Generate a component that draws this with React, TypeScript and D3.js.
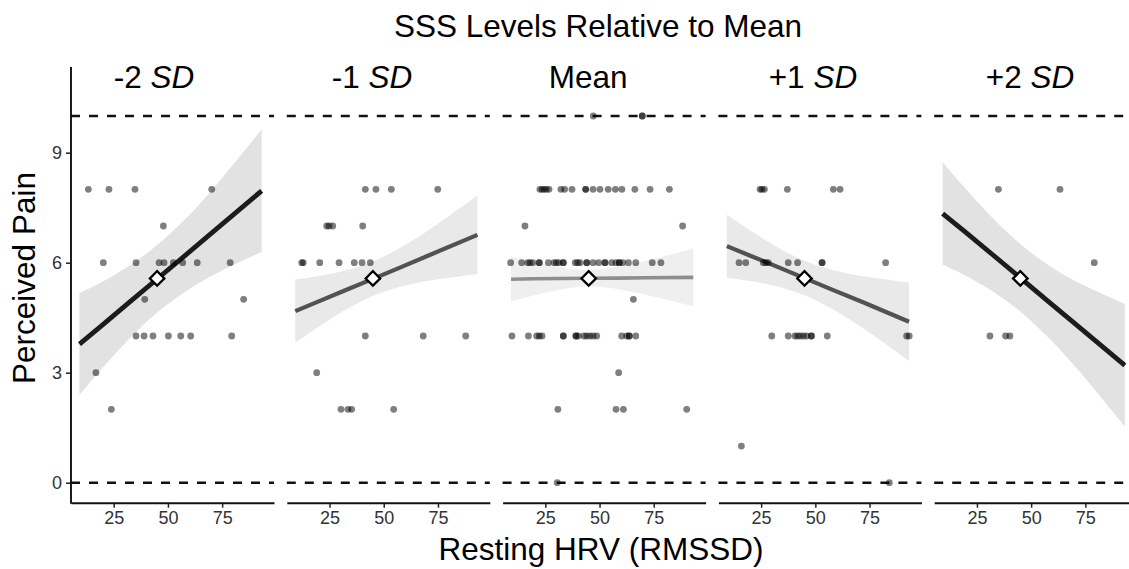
import React, { useEffect, useRef } from 'react';
import * as d3 from 'd3';

// SSS levels (facets)
const levelNames = ['-2', '-1', 'Mean', '+1', '+2'];
const labelX = [43.6, 44.6, 44.7, 48.9, 49.5]; // label centre, in HRV units

// raw points per facet: [HRV, pain]
const pointsM2: [number, number][] = [
  [13.3, 8], [22.8, 8], [34.8, 8], [70.2, 8],
  [47.9, 7],
  [20.2, 6], [35.3, 6], [45.9, 6], [48.2, 6], [52.5, 6], [56.8, 6], [63.5, 6], [78.7, 6],
  [39.3, 5], [84.9, 5],
  [35.3, 4], [39.0, 4], [43.1, 4], [50.2, 4], [55.9, 4], [60.5, 4], [79.4, 4],
  [16.8, 3],
  [23.9, 2],
];
const pointsM1: [number, number][] = [
  [41.5, 8], [46.4, 8], [53.5, 8], [74.9, 8],
  [23.7, 7], [24.8, 7], [26.5, 7], [40.3, 7],
  [12.2, 6], [12.9, 6], [20.5, 6], [29.4, 6], [36.4, 6], [40.0, 6], [43.8, 6],
  [41.5, 4], [68.2, 4], [87.8, 4],
  [19.1, 3],
  [30.3, 2], [33.5, 2], [35.2, 2], [54.6, 2],
];
const pointsMean: [number, number][] = [
  [47.1, 10], [69.7, 10], [69.7, 10],
  [22.5, 8], [23.5, 8], [24.5, 8], [25.5, 8], [26.7, 8], [32.2, 8], [33.9, 8], [37.3, 8],
  [43.6, 8], [43.6, 8], [47.0, 8], [50.2, 8], [54.0, 8], [57.3, 8], [60.3, 8], [66.3, 8],
  [73.3, 8], [82.2, 8],
  [15.6, 7], [88.3, 7],
  [9.0, 6], [14.1, 6], [16.9, 6], [17.9, 6], [19.2, 6], [22.2, 6], [22.2, 6], [26.4, 6],
  [29.0, 6], [30.1, 6], [31.2, 6], [33.3, 6], [33.3, 6], [38.8, 6], [39.9, 6], [41.0, 6],
  [44.1, 6], [44.1, 6], [47.0, 6], [49.6, 6], [52.5, 6], [52.5, 6], [55.6, 6], [57.6, 6],
  [59.1, 6], [59.1, 6], [60.7, 6], [63.3, 6], [66.7, 6], [74.3, 6], [78.3, 6],
  [65.6, 5],
  [9.6, 4], [17.2, 4], [21.0, 4], [22.2, 4], [23.5, 4], [33.3, 4], [33.3, 4], [39.1, 4],
  [39.1, 4], [40.2, 4], [42.8, 4], [44.1, 4], [45.6, 4], [47.1, 4], [48.7, 4], [60.2, 4],
  [62.5, 4], [63.7, 4], [63.7, 4], [66.7, 4],
  [58.8, 3],
  [30.8, 2], [57.6, 2], [61.0, 2], [90.2, 2],
  [30.5, 0],
];
const pointsP1: [number, number][] = [
  [24.5, 8], [25.4, 8], [26.5, 8], [37.1, 8], [58.3, 8], [61.4, 8],
  [14.8, 6], [17.9, 6], [26.0, 6], [27.1, 6], [28.3, 6], [37.5, 6], [41.8, 6], [53.1, 6],
  [53.1, 6], [82.4, 6],
  [29.9, 4], [37.5, 4], [40.6, 4], [41.8, 4], [43.1, 4], [44.5, 4], [46.0, 4], [48.2, 4],
  [48.2, 4], [55.5, 4], [92.1, 4], [93.3, 4],
  [15.9, 1],
  [84.1, 0],
];
const pointsP2: [number, number][] = [
  [34.9, 8], [63.3, 8],
  [79.1, 6],
  [31.0, 4], [38.2, 4], [40.2, 4],
];

// fitted simple slopes and 95% CI, read at these HRV values
const fitX = [9.2, 20, 32, 45, 58, 72, 93.2];
const fitM2 = [3.78, 4.31, 4.91, 5.555, 6.2, 6.9, 7.96];
const loM2 = [2.39, 3.14, 3.91, 4.64, 5.21, 5.7, 6.29];
const hiM2 = [5.17, 5.49, 5.91, 6.48, 7.19, 8.1, 9.63];
const fitM1 = [4.68, 4.945, 5.24, 5.56, 5.88, 6.23, 6.76];
const loM1 = [3.82, 4.25, 4.7, 5.09, 5.35, 5.52, 5.69];
const hiM1 = [5.54, 5.64, 5.78, 6.03, 6.42, 6.94, 7.83];
const fitMean = [5.55, 5.56, 5.57, 5.575, 5.58, 5.59, 5.6];
const loMean = [4.94, 5.11, 5.27, 5.36, 5.28, 5.12, 4.81];
const hiMean = [6.16, 6.01, 5.87, 5.8, 5.88, 6.06, 6.39];
const fitP1 = [6.45, 6.19, 5.9, 5.58, 5.26, 4.92, 4.39];
const loP1 = [5.59, 5.5, 5.36, 5.11, 4.73, 4.21, 3.32];
const hiP1 = [7.31, 6.88, 6.44, 6.05, 5.8, 5.63, 5.46];
const fitP2 = [7.34, 6.82, 6.23, 5.585, 4.94, 4.25, 3.2];
const loP2 = [5.95, 5.64, 5.23, 4.67, 3.95, 3.05, 1.53];
const hiP2 = [8.73, 8.0, 7.23, 6.51, 5.93, 5.45, 4.87];

const meanHRV = 45;
const meanPain = 5.57;
const xTicks = [25, 50, 75];
const yTicks = [0, 3, 6, 9];
const refLines = [0, 10];

const panels = [
  { points: pointsM2, fit: fitM2, lo: loM2, hi: hiM2, line: '#1c1c1c', lw: 4.8, band: '#e2e2e2' },
  { points: pointsM1, fit: fitM1, lo: loM1, hi: hiM1, line: '#525252', lw: 4.2, band: '#e9e9e9' },
  { points: pointsMean, fit: fitMean, lo: loMean, hi: hiMean, line: '#8e8e8e', lw: 3.6, band: '#efefef' },
  { points: pointsP1, fit: fitP1, lo: loP1, hi: hiP1, line: '#525252', lw: 4.2, band: '#e9e9e9' },
  { points: pointsP2, fit: fitP2, lo: loP2, hi: hiP2, line: '#1c1c1c', lw: 4.8, band: '#e2e2e2' },
];

const FONT = '"Liberation Sans", Arial, Helvetica, sans-serif';

const App: React.FC = () => {
  const svgRef = useRef<SVGSVGElement>(null);

  useEffect(() => {
    const svg = d3.select(svgRef.current);
    svg.selectAll('*').remove();

    const width = 1129;
    const height = 569;
    const firstLeft = 71;
    const pitch = 215.8;
    const panelW = 203;
    const axisY = 502.7;

    svg.attr('width', width).attr('height', height).style('font-family', FONT);

    const x = d3.scaleLinear().domain([5.3, 98.9]).range([0, panelW]);
    const y = d3.scaleLinear().domain([0, 10]).range([482.7, 116]);

    // title
    svg
      .append('text')
      .attr('x', 598)
      .attr('y', 37)
      .attr('text-anchor', 'middle')
      .style('font-size', '31.5px')
      .attr('fill', '#000')
      .text('SSS Levels Relative to Mean');

    panels.forEach((p, i) => {
      const g = svg.append('g').attr('transform', `translate(${firstLeft + i * pitch},0)`);

      // dashed reference lines at 0 and 10
      g.selectAll('line.ref')
        .data(refLines)
        .join('line')
        .attr('x1', 0)
        .attr('x2', panelW)
        .attr('y1', (d) => y(d))
        .attr('y2', (d) => y(d))
        .attr('stroke', '#111')
        .attr('stroke-width', 2.4)
        .attr('stroke-dasharray', '9,9');

      // CI band
      const area = d3
        .area<number>()
        .x((_, j) => x(fitX[j]))
        .y0((_, j) => y(p.lo[j]))
        .y1((_, j) => y(p.hi[j]))
        .curve(d3.curveNatural);
      g.append('path').datum(p.fit).attr('d', area).attr('fill', p.band);

      // fitted line
      const line = d3
        .line<number>()
        .x((_, j) => x(fitX[j]))
        .y((d) => y(d));
      g.append('path')
        .datum(p.fit)
        .attr('d', line)
        .attr('fill', 'none')
        .attr('stroke', p.line)
        .attr('stroke-width', p.lw);

      // raw points
      g.selectAll('circle')
        .data(p.points)
        .join('circle')
        .attr('cx', (d) => x(d[0]))
        .attr('cy', (d) => y(d[1]))
        .attr('r', 3.4)
        .attr('fill', '#000')
        .attr('fill-opacity', 0.5);

      // mean marker
      g.append('path')
        .attr('d', d3.symbol(d3.symbolSquare, 105)())
        .attr('transform', `translate(${x(meanHRV)},${y(meanPain)}) rotate(45)`)
        .attr('fill', '#fff')
        .attr('stroke', '#000')
        .attr('stroke-width', 2.3);

      // x axis
      const xAxis = g
        .append('g')
        .attr('transform', `translate(0,${axisY})`)
        .call(d3.axisBottom(x).tickValues(xTicks).tickSize(5).tickSizeOuter(0).tickPadding(4));
      xAxis.select('.domain').attr('stroke', '#111').attr('stroke-width', 1.9);
      xAxis.selectAll('.tick line').attr('stroke', '#222').attr('stroke-width', 1.5);
      xAxis
        .selectAll('.tick text')
        .attr('fill', '#333')
        .style('font-size', '18px')
        .style('font-family', FONT);

      // facet label
      const lab = g
        .append('text')
        .attr('x', x(labelX[i]))
        .attr('y', 88)
        .attr('text-anchor', 'middle')
        .style('font-size', '31.5px')
        .attr('fill', '#000');
      if (levelNames[i] === 'Mean') {
        lab.text('Mean');
      } else {
        lab.append('tspan').text(levelNames[i] + ' ');
        lab.append('tspan').style('font-style', 'italic').text('SD');
      }
    });

    // y axis on the first panel
    const yAxis = svg
      .append('g')
      .attr('transform', `translate(${firstLeft},0)`)
      .call(d3.axisLeft(y).tickValues(yTicks).tickSize(5).tickSizeOuter(0).tickPadding(4));
    yAxis.select('.domain').remove();
    yAxis.selectAll('.tick line').attr('stroke', '#222').attr('stroke-width', 1.5);
    yAxis
      .selectAll('.tick text')
      .attr('fill', '#333')
      .style('font-size', '18px')
      .style('font-family', FONT);
    svg
      .append('line')
      .attr('x1', firstLeft)
      .attr('x2', firstLeft)
      .attr('y1', 67)
      .attr('y2', axisY + 0.95)
      .attr('stroke', '#111')
      .attr('stroke-width', 1.9);

    // axis titles
    svg
      .append('text')
      .attr('transform', `translate(35,278) rotate(-90)`)
      .attr('text-anchor', 'middle')
      .style('font-size', '31.5px')
      .attr('fill', '#000')
      .text('Perceived Pain');

    svg
      .append('text')
      .attr('x', 601)
      .attr('y', 560)
      .attr('text-anchor', 'middle')
      .style('font-size', '31.5px')
      .attr('fill', '#000')
      .text('Resting HRV (RMSSD)');
  }, []);

  return (
    <div style={{ position: 'absolute', left: 0, top: 0, width: 1129, height: 569, background: '#fff' }}>
      <svg ref={svgRef} style={{ display: 'block' }}></svg>
    </div>
  );
};

export default App;
